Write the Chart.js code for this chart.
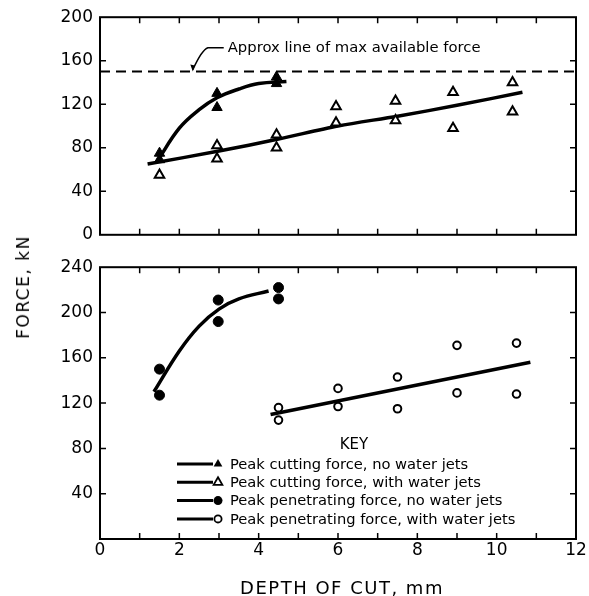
<!DOCTYPE html>
<html>
<head>
<meta charset="utf-8">
<script src="https://cdn.jsdelivr.net/npm/chart.js@4.4.0/dist/chart.umd.min.js"></script>
<style>
  body { margin: 0; background: #fff; }
  #wrap { position: relative; width: 589px; height: 596px; overflow: hidden; font-family: "DejaVu Sans", sans-serif; }
  canvas { position: absolute; left: 0; }
  #topChart { top: 0; }
  #bottomChart { top: 250px; }
  .title { position: absolute; color: #000; white-space: nowrap; }
  #yTitle { left: 23px; top: 287px; font-size: 17px; letter-spacing: 1.5px; transform: translate(-50%, -50%) rotate(-90deg); }
  #xTitle { left: 342px; top: 587px; font-size: 18px; letter-spacing: 1.5px; transform: translate(-50%, -50%); }
</style>
</head>
<body>
<div id="wrap">
  <canvas id="topChart" width="589" height="252"></canvas>
  <canvas id="bottomChart" width="589" height="346"></canvas>
  <div class="title" id="yTitle">FORCE, kN</div>
  <div class="title" id="xTitle">DEPTH OF CUT, mm</div>
</div>
<script>
// --- datos ---
// panel superior: fuerza de corte
const cutDryX = [1.5, 1.5, 2.95, 2.95, 4.45, 4.45];
const cutDryY = [75, 69, 130, 117, 145, 139];
const cutWetX = [1.5, 2.95, 2.95, 4.45, 4.45, 5.95, 5.95, 7.45, 7.45, 8.9, 8.9, 10.4, 10.4];
const cutWetY = [55, 82, 70, 92, 80, 118, 103, 123, 105, 131, 98, 140, 113];
const cutDryFitX = [1.45, 2.0, 2.5, 2.95, 3.5, 4.0, 4.7];
const cutDryFitY = [68, 98, 115, 126, 134, 139, 141];
const cutWetFitX = [1.2, 3.0, 4.5, 6.0, 7.5, 9.0, 10.65];
const cutWetFitY = [65, 77, 88, 100, 109, 119, 131];
const maxForce = 150;

// panel inferior: fuerza de penetracion
const penDryX = [1.5, 1.5, 2.98, 2.98, 4.5, 4.5];
const penDryY = [150, 127, 211, 192, 222, 212];
const penWetX = [4.5, 4.5, 6.0, 6.0, 7.5, 7.5, 9.0, 9.0, 10.5, 10.5];
const penWetY = [116, 105, 133, 117, 143, 115, 171, 129, 173, 128];
const penDryFitX = [1.36, 2.0, 2.5, 3.0, 3.5, 4.25];
const penDryFitY = [130, 166, 188, 203, 212, 219];
const penWetFitX = [4.3, 10.85];
const penWetFitY = [110, 156];

const legendLabels = [
  'Peak cutting force, no water jets',
  'Peak cutting force, with water jets',
  'Peak penetrating force, no water jets',
  'Peak penetrating force, with water jets'
];

const FONT = '"DejaVu Sans", sans-serif';

function pts(xs, ys) {
  return xs.map((x, i) => ({ x: x, y: ys[i] }));
}

// marco con marcas hacia adentro en los cuatro lados
const framePlugin = {
  id: 'frame',
  beforeDatasetsDraw(chart) {
    const { ctx, chartArea: a, scales } = chart;
    ctx.save();
    ctx.strokeStyle = '#000';
    ctx.lineWidth = 2;
    ctx.strokeRect(a.left, a.top, a.right - a.left, a.bottom - a.top);
    ctx.lineWidth = 1.5;
    const len = 6;
    for (let v = 1; v < 12; v++) {
      const px = scales.x.getPixelForValue(v);
      ctx.beginPath();
      ctx.moveTo(px, a.bottom); ctx.lineTo(px, a.bottom - len);
      ctx.moveTo(px, a.top); ctx.lineTo(px, a.top + len);
      ctx.stroke();
    }
    scales.y.ticks.forEach(t => {
      if (t.value <= scales.y.min || t.value >= scales.y.max) return;
      const py = scales.y.getPixelForValue(t.value);
      ctx.beginPath();
      ctx.moveTo(a.left, py); ctx.lineTo(a.left + len, py);
      ctx.moveTo(a.right, py); ctx.lineTo(a.right - len, py);
      ctx.stroke();
    });
    ctx.restore();
  }
};

// nota "Approx line of max available force"
const notePlugin = {
  id: 'note',
  afterDatasetsDraw(chart) {
    const { ctx, scales } = chart;
    const tx = scales.x.getPixelForValue(3.22);
    const ty = scales.y.getPixelForValue(172);
    const bx = scales.x.getPixelForValue(2.72);
    const ex = scales.x.getPixelForValue(2.34);
    const ey = scales.y.getPixelForValue(maxForce);
    ctx.save();
    ctx.strokeStyle = '#000';
    ctx.lineWidth = 1.5;
    ctx.beginPath();
    ctx.moveTo(tx - 4, ty);
    ctx.lineTo(bx, ty);
    ctx.quadraticCurveTo(bx - 6, ty + 2, ex, ey - 2);
    ctx.stroke();
    ctx.beginPath();
    ctx.moveTo(ex, ey);
    ctx.lineTo(ex - 2.5, ey - 7);
    ctx.lineTo(ex + 2, ey - 6);
    ctx.closePath();
    ctx.fillStyle = '#000';
    ctx.fill();
    ctx.font = '14.8px ' + FONT;
    ctx.textBaseline = 'middle';
    ctx.fillText('Approx line of max available force', tx, ty);
    ctx.restore();
  }
};

// leyenda "KEY"
const keyPlugin = {
  id: 'key',
  afterDatasetsDraw(chart) {
    const { ctx } = chart;
    ctx.save();
    ctx.fillStyle = '#000';
    ctx.strokeStyle = '#000';
    ctx.textBaseline = 'middle';
    ctx.font = '15px ' + FONT;
    ctx.textAlign = 'center';
    ctx.fillText('KEY', 354, 195);
    ctx.textAlign = 'left';
    ctx.font = '14.7px ' + FONT;
    legendLabels.forEach((lab, i) => {
      const y = 214 + i * 18.3;
      ctx.lineWidth = 3;
      ctx.beginPath();
      ctx.moveTo(177, y); ctx.lineTo(213, y);
      ctx.stroke();
      const mx = 218;
      ctx.lineWidth = 1.8;
      ctx.beginPath();
      if (i < 2) {
        const r = 5;
        ctx.moveTo(mx, y - r);
        ctx.lineTo(mx + r * 0.87, y + r * 0.5);
        ctx.lineTo(mx - r * 0.87, y + r * 0.5);
        ctx.closePath();
      } else {
        ctx.arc(mx, y, i === 2 ? 4.5 : 3.6, 0, Math.PI * 2);
      }
      if (i % 2 === 0) { ctx.fill(); } else { ctx.fillStyle = '#fff'; ctx.fill(); ctx.fillStyle = '#000'; ctx.stroke(); }
      ctx.fillText(lab, 230, y + 1);
    });
    ctx.restore();
  }
};

function yScale(max, hideZero) {
  return {
    min: 0, max: max,
    ticks: {
      stepSize: 40, color: '#000', padding: 7,
      font: { family: FONT, size: 17 },
      callback: v => (hideZero && v === 0) ? '' : v
    },
    grid: { display: false, drawTicks: false },
    border: { display: false },
    afterFit: s => { s.width = 100; }
  };
}

const topChart = new Chart(document.getElementById('topChart'), {
  type: 'scatter',
  data: {
    datasets: [
      { data: pts(cutDryX, cutDryY), pointStyle: 'triangle', pointRadius: 6, backgroundColor: '#000', borderColor: '#000', borderWidth: 1 },
      { data: pts(cutWetX, cutWetY), pointStyle: 'triangle', pointRadius: 5.5, backgroundColor: '#fff', borderColor: '#000', borderWidth: 2 },
      { data: pts(cutDryFitX, cutDryFitY), showLine: true, pointRadius: 0, borderColor: '#000', borderWidth: 3.5, tension: 0.4 },
      { data: pts(cutWetFitX, cutWetFitY), showLine: true, pointRadius: 0, borderColor: '#000', borderWidth: 3.5, tension: 0.3 },
      { data: [{ x: 0, y: maxForce }, { x: 12, y: maxForce }], showLine: true, pointRadius: 0, borderColor: '#000', borderWidth: 2, borderDash: [10, 6] }
    ]
  },
  options: {
    responsive: false,
    animation: false,
    layout: { padding: { top: 14, right: 13, bottom: 15, left: 0 } },
    plugins: { legend: { display: false }, tooltip: { enabled: false } },
    scales: {
      x: { type: 'linear', min: 0, max: 12, display: false },
      y: yScale(200, false)
    }
  },
  plugins: [framePlugin, notePlugin]
});

const bottomChart = new Chart(document.getElementById('bottomChart'), {
  type: 'scatter',
  data: {
    datasets: [
      { data: pts(penDryX, penDryY), pointStyle: 'circle', pointRadius: 5, backgroundColor: '#000', borderColor: '#000', borderWidth: 1 },
      { data: pts(penWetX, penWetY), pointStyle: 'circle', pointRadius: 3.8, backgroundColor: '#fff', borderColor: '#000', borderWidth: 2 },
      { data: pts(penDryFitX, penDryFitY), showLine: true, pointRadius: 0, borderColor: '#000', borderWidth: 3.5, tension: 0.4 },
      { data: pts(penWetFitX, penWetFitY), showLine: true, pointRadius: 0, borderColor: '#000', borderWidth: 3.5 }
    ]
  },
  options: {
    responsive: false,
    animation: false,
    layout: { padding: { top: 17, right: 13, bottom: 0, left: 0 } },
    plugins: { legend: { display: false }, tooltip: { enabled: false } },
    scales: {
      x: {
        type: 'linear', min: 0, max: 12,
        ticks: {
          stepSize: 1, color: '#000', padding: 1, maxRotation: 0, autoSkip: false,
          font: { family: FONT, size: 17 },
          callback: v => (v % 2 === 0 ? v : '')
        },
        grid: { display: false, drawTicks: false },
        border: { display: false },
        afterFit: s => { s.height = 57; }
      },
      y: yScale(240, true)
    }
  },
  plugins: [framePlugin, keyPlugin]
});
</script>
</body>
</html>
